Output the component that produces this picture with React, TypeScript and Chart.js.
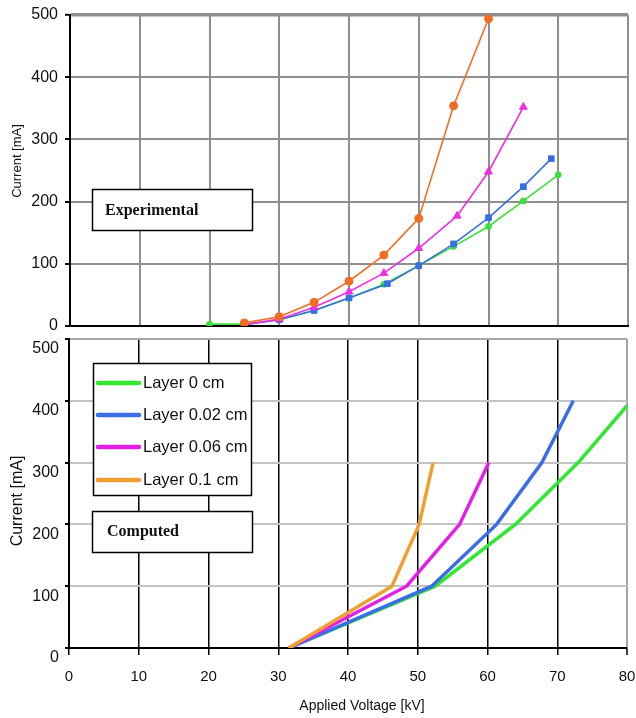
import React, { useEffect, useRef } from "react";
import { Chart, registerables } from "chart.js";

Chart.register(...registerables);

// ---------------- data ----------------
const seriesLabels = ["Layer 0 cm", "Layer 0.02 cm", "Layer 0.06 cm", "Layer 0.1 cm"];

const xTicks = [0, 10, 20, 30, 40, 50, 60, 70, 80];
const yTicks = [0, 100, 200, 300, 400, 500];

// Experimental (top panel)
const expV0 = [20, 25, 30, 35, 40, 45, 50, 55, 60, 65, 70];
const expI0 = [3, 3, 10, 25, 45, 67, 97, 128, 160, 201, 243];
const expV02 = [25, 30, 35, 40, 45.5, 50, 55, 60, 65, 69];
const expI02 = [2, 10, 25, 45, 68, 97, 132, 174, 224, 269];
const expV06 = [25, 30, 35, 40, 45, 50, 55.5, 60, 65];
const expI06 = [2, 11, 30, 55, 85, 125, 177, 248, 352];
const expV1 = [25, 30, 35, 40, 45, 50, 55, 60];
const expI1 = [5, 15, 38, 72, 114, 173, 354, 494];

// Computed (bottom panel)
const compV0 = [31.5, 52.5, 64, 73, 80];
const compI0 = [0, 100, 200, 300, 392];
const compV02 = [31.5, 52, 61.3, 67.8, 72.3];
const compI02 = [0, 100, 200, 300, 400];
const compV06 = [31.5, 48.4, 56, 60.2];
const compI06 = [0, 100, 200, 300];
const compV1 = [31.5, 46.3, 50.2, 52.2];
const compI1 = [0, 100, 200, 300];

const panelTitles = ["Experimental", "Computed"];
const xTitle = "Applied Voltage [kV]";
const yTitle = "Current [mA]";

// ---------------- styles ----------------
const expColors = ["#3ddf3d", "#3a6fe0", "#ee2fe3", "#f26d22"];
const expMarkers = ["circle", "rect", "triangle", "circle"];
const expRadius = [3, 4, 4.5, 4];
const compColors = ["#2fe82f", "#3b6ee6", "#e51ee6", "#f0a030"];
const FONT = "'Liberation Sans', Arial, sans-serif";
const SERIF = "'Liberation Serif', 'Times New Roman', serif";

const pts = (xs: number[], ys: number[]) => xs.map((x, i) => ({ x, y: ys[i] }));

const expData = [
  pts(expV0, expI0),
  pts(expV02, expI02),
  pts(expV06, expI06),
  pts(expV1, expI1),
];
const compData = [
  pts(compV0, compI0),
  pts(compV02, compI02),
  pts(compV06, compI06),
  pts(compV1, compI1),
];

function zeroPad(s: any) {
  s.paddingTop = 0;
  s.paddingBottom = 0;
  s.paddingLeft = 0;
  s.paddingRight = 0;
}

function drawBox(ctx: CanvasRenderingContext2D, x: number, y: number, w: number, h: number) {
  ctx.fillStyle = "#fff";
  ctx.fillRect(x, y, w, h);
  ctx.strokeStyle = "#000";
  ctx.lineWidth = 1.5;
  ctx.strokeRect(x, y, w, h);
}

function drawRotated(ctx: CanvasRenderingContext2D, text: string, cx: number, cy: number, font: string) {
  ctx.save();
  ctx.translate(cx, cy);
  ctx.rotate(-Math.PI / 2);
  ctx.font = font;
  ctx.fillStyle = "#111";
  ctx.textAlign = "center";
  ctx.textBaseline = "middle";
  ctx.fillText(text, 0, 0);
  ctx.restore();
}

const topOverlay = {
  id: "topOverlay",
  afterDraw(chart: any) {
    const ctx = chart.ctx as CanvasRenderingContext2D;
    ctx.save();
    drawBox(ctx, 92.5, 189.5, 160, 41);
    ctx.font = `bold 16px ${SERIF}`;
    ctx.fillStyle = "#111";
    ctx.textAlign = "left";
    ctx.textBaseline = "middle";
    ctx.fillText(panelTitles[0], 105, 211);
    drawRotated(ctx, yTitle, 17.5, 161, `13px ${FONT}`);
    ctx.restore();
  },
};

const bottomOverlay = {
  id: "bottomOverlay",
  afterDraw(chart: any) {
    const ctx = chart.ctx as CanvasRenderingContext2D;
    ctx.save();
    // legend
    drawBox(ctx, 93.5, 33.5, 158, 132);
    const rows = [53, 85, 117, 150];
    chart.data.datasets.forEach((ds: any, i: number) => {
      const y = rows[i];
      ctx.strokeStyle = ds.borderColor;
      ctx.lineWidth = 4.5;
      ctx.lineCap = "round";
      ctx.beginPath();
      ctx.moveTo(98, y);
      ctx.lineTo(139, y);
      ctx.stroke();
      ctx.font = `16.5px ${FONT}`;
      ctx.fillStyle = "#111";
      ctx.textAlign = "left";
      ctx.textBaseline = "middle";
      ctx.fillText(ds.label, 143, y);
    });
    // computed box
    drawBox(ctx, 92.5, 181.5, 160, 41);
    ctx.font = `bold 16px ${SERIF}`;
    ctx.fillStyle = "#111";
    ctx.textAlign = "left";
    ctx.textBaseline = "middle";
    ctx.fillText(panelTitles[1], 107, 202);
    // axis titles
    drawRotated(ctx, yTitle, 17.5, 171, `16px ${FONT}`);
    ctx.font = `14px ${FONT}`;
    ctx.textAlign = "center";
    ctx.textBaseline = "middle";
    ctx.fillText(xTitle, 362, 376);
    ctx.restore();
  },
};

function topConfig(): any {
  return {
    type: "line",
    data: {
      datasets: expData.map((d, i) => ({
        label: seriesLabels[i],
        data: d,
        borderColor: expColors[i],
        backgroundColor: expColors[i],
        pointBackgroundColor: expColors[i],
        pointBorderColor: expColors[i],
        pointStyle: expMarkers[i],
        pointRadius: expRadius[i],
        pointBorderWidth: 1,
        borderWidth: 1.6,
        tension: 0,
        order: 3 - i,
      })),
    },
    options: {
      responsive: false,
      devicePixelRatio: 1,
      animation: false,
      layout: { padding: { top: 15, right: 8, left: 0, bottom: 0 } },
      plugins: { legend: { display: false }, tooltip: { enabled: false } },
      scales: {
        x: {
          type: "linear",
          min: 0,
          max: 80,
          afterBuildTicks: (s: any) => { s.ticks = xTicks.map((v) => ({ value: v })); },
          afterFit: (s: any) => { s.height = 12; zeroPad(s); },
          ticks: { display: false },
          grid: { color: "#8f8f8f", lineWidth: 2, drawTicks: false },
          border: { color: "#000", width: 2 },
        },
        y: {
          type: "linear",
          min: 0,
          max: 500,
          afterBuildTicks: (s: any) => { s.ticks = yTicks.map((v) => ({ value: v })); },
          afterFit: (s: any) => { s.width = 70; zeroPad(s); },
          ticks: {
            font: { family: FONT, size: 16 },
            color: "#111",
            padding: 7,
            callback: (v: any) => String(v),
          },
          grid: {
            color: "#8f8f8f",
            lineWidth: (c: any) => (c.tick && c.tick.value === 500 ? 3.5 : 2),
            tickLength: 5,
            tickColor: "#000",
            tickWidth: 2,
          },
          border: { color: "#000", width: 2 },
        },
      },
    },
    plugins: [topOverlay],
  };
}

function bottomConfig(): any {
  return {
    type: "line",
    data: {
      datasets: compData.map((d, i) => ({
        label: seriesLabels[i],
        data: d,
        borderColor: compColors[i],
        backgroundColor: compColors[i],
        pointRadius: 0,
        borderWidth: 3.5,
        tension: 0,
        order: 3 - i,
      })),
    },
    options: {
      responsive: false,
      devicePixelRatio: 1,
      animation: false,
      layout: { padding: { top: 9, right: 9, left: 0, bottom: 0 } },
      plugins: { legend: { display: false }, tooltip: { enabled: false } },
      scales: {
        x: {
          type: "linear",
          min: 0,
          max: 80,
          afterBuildTicks: (s: any) => { s.ticks = xTicks.map((v) => ({ value: v })); },
          afterFit: (s: any) => { s.height = 70; zeroPad(s); },
          ticks: {
            font: { family: FONT, size: 15 },
            color: "#111",
            padding: 13,
            maxRotation: 0,
            callback: (v: any) => String(v),
          },
          grid: {
            color: (c: any) => (c.tick && c.tick.value === 80 ? "#a6a6a6" : "#000"),
            lineWidth: (c: any) => (c.tick && c.tick.value === 80 ? 2 : 1.5),
            tickLength: 7,
            tickColor: "#000",
            tickWidth: 1.5,
          },
          border: { color: "#000", width: 2 },
        },
        y: {
          type: "linear",
          min: 0,
          max: 500,
          afterBuildTicks: (s: any) => { s.ticks = yTicks.map((v) => ({ value: v })); },
          afterFit: (s: any) => { s.width = 69; zeroPad(s); },
          ticks: {
            font: { family: FONT, size: 16 },
            color: "#111",
            padding: 6,
            labelOffset: 10,
            callback: (v: any) => String(v),
          },
          grid: {
            color: (c: any) => (c.tick && c.tick.value === 500 ? "#a6a6a6" : "#c4c4c4"),
            lineWidth: 2,
            tickLength: 4,
            tickColor: "#000",
            tickWidth: 2,
          },
          border: { color: "#000", width: 2 },
        },
      },
    },
    plugins: [bottomOverlay],
  };
}

export default function App() {
  const topRef = useRef<HTMLCanvasElement>(null);
  const botRef = useRef<HTMLCanvasElement>(null);

  useEffect(() => {
    const top = new Chart(topRef.current as HTMLCanvasElement, topConfig());
    const bot = new Chart(botRef.current as HTMLCanvasElement, bottomConfig());
    return () => {
      top.destroy();
      bot.destroy();
    };
  }, []);

  return (
    <div style={{ position: "absolute", left: 0, top: 0, width: 636, height: 718, background: "#fff" }}>
      <canvas ref={topRef} width={636} height={338} style={{ position: "absolute", left: 0, top: 0 }} />
      <canvas ref={botRef} width={636} height={388} style={{ position: "absolute", left: 0, top: 330 }} />
    </div>
  );
}
